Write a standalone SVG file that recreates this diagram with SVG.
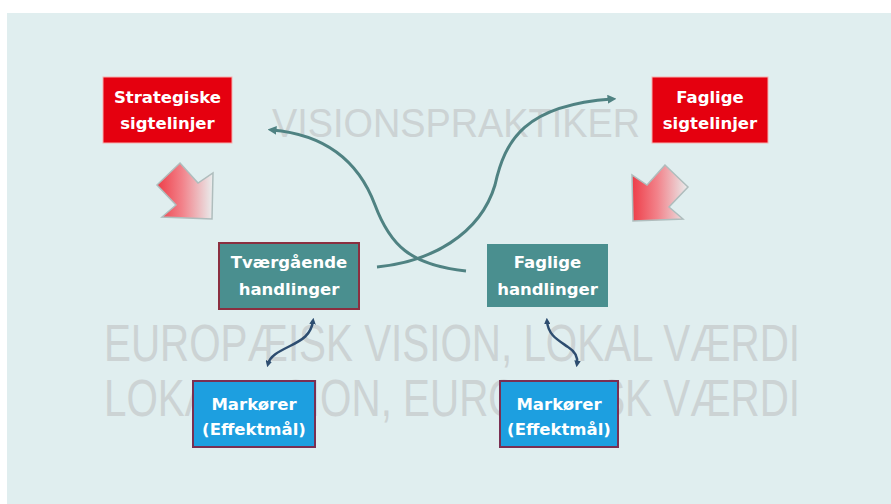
<svg xmlns="http://www.w3.org/2000/svg" width="891" height="504" viewBox="0 0 891 504">
<defs>
<style>
.wm{font-family:"Liberation Sans",Arial,sans-serif;fill:#ccd3d4;}
.lbl{font-family:"DejaVu Sans",Verdana,sans-serif;font-weight:bold;font-size:16.5px;fill:#ffffff;text-anchor:middle;}
.red{fill:#e5000f;stroke:#f6b0b0;stroke-width:1;}
.teal{fill:#4a8f8f;}
.blue{fill:#1d9fe0;stroke:#7a2f52;stroke-width:2;}
.big{fill:none;stroke:#4f8282;stroke-width:3;}
.small{fill:none;stroke:#2d4d70;stroke-width:2.5;}
.blk{fill:url(#g);stroke:#afbdbd;stroke-width:1.5;}
</style>
<linearGradient id="g" x1="0" y1="0" x2="1" y2="0">
<stop offset="0" stop-color="#ee3d48"/>
<stop offset="0.45" stop-color="#f2828a"/>
<stop offset="1" stop-color="#e9eeee"/>
</linearGradient>
<marker id="ah" viewBox="0 0 10 10" refX="5" refY="5" markerWidth="3" markerHeight="3" orient="auto-start-reverse">
<path d="M0,0 L10,5 L0,10 z" fill="#4f8282"/>
</marker>
<marker id="as" viewBox="0 0 10 10" refX="5" refY="5" markerWidth="2.6" markerHeight="2.6" orient="auto-start-reverse">
<path d="M0,0 L10,5 L0,10 z" fill="#2d4d70"/>
</marker>
</defs>
<rect x="7" y="13" width="884" height="491" fill="#e0eeef"/>
<g id="watermark">
<text class="wm" x="272" y="137" font-size="40" textLength="368" lengthAdjust="spacingAndGlyphs">VISIONSPRAKTIKER</text>
<text class="wm" x="104" y="361" font-size="52" textLength="696" lengthAdjust="spacingAndGlyphs">EUROPÆISK VISION, LOKAL VÆRDI</text>
<text class="wm" x="104" y="416" font-size="52" textLength="696" lengthAdjust="spacingAndGlyphs">LOKAL VISION, EUROPÆISK VÆRDI</text>
</g>
<g id="block-arrows">
<polygon class="blk" points="180,163 198,183 213,173 212,219 162,217 176,205 157,185"/>
<polygon class="blk" points="665,165 647,185 632,175 633,221 683,219 669,207 688,187"/>
</g>
<g id="connectors">
<path class="big" d="M272,130 C330,135 360,165 375,205 C390,245 410,265 466,271" marker-start="url(#ah)"/>
<path class="big" d="M377,267 C430,262 480,235 495,185 C505,140 525,105 612,99" marker-end="url(#ah)"/>
<path class="small" d="M313,321 C311,335 302,340 290,346 C278,352 270,356 268,364" marker-start="url(#as)" marker-end="url(#as)"/>
<path class="small" d="M547,321 C548,335 558,340 568,347 C576,352 578,358 577,364" marker-start="url(#as)" marker-end="url(#as)"/>
</g>
<g id="strategiske">
<rect class="red" x="103" y="77" width="129" height="66"/>
<text class="lbl" x="167.5" y="103">Strategiske</text>
<text class="lbl" x="167.5" y="129">sigtelinjer</text>
</g>
<g id="faglige-sigtelinjer">
<rect class="red" x="652" y="77" width="116" height="66"/>
<text class="lbl" x="710" y="103">Faglige</text>
<text class="lbl" x="710" y="129">sigtelinjer</text>
</g>
<g id="tvaergaaende">
<rect class="teal" x="219" y="243" width="140" height="66" stroke="#8b2f40" stroke-width="2"/>
<text class="lbl" x="289" y="268">Tværgående</text>
<text class="lbl" x="289" y="295">handlinger</text>
</g>
<g id="faglige-handlinger">
<rect class="teal" x="487" y="244" width="121" height="63"/>
<text class="lbl" x="547.5" y="268">Faglige</text>
<text class="lbl" x="547.5" y="295">handlinger</text>
</g>
<g id="markoerer-left">
<rect class="blue" x="193" y="381" width="122" height="66"/>
<text class="lbl" x="254" y="410">Markører</text>
<text class="lbl" x="254" y="435">(Effektmål)</text>
</g>
<g id="markoerer-right">
<rect class="blue" x="500" y="381" width="118" height="66"/>
<text class="lbl" x="559" y="410">Markører</text>
<text class="lbl" x="559" y="435">(Effektmål)</text>
</g>
</svg>
